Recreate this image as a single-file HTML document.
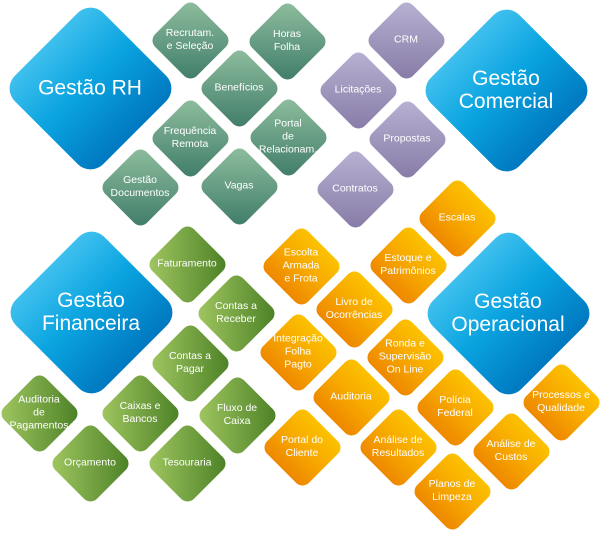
<!DOCTYPE html>
<html><head><meta charset="utf-8">
<style>
html,body{margin:0;padding:0;background:#fff;}
body{width:600px;height:530px;position:relative;overflow:hidden;font-family:"Liberation Sans",sans-serif;}
.n{position:absolute;width:0;height:0;}
.d{position:absolute;left:-29.5px;top:-29.5px;width:59px;height:59px;border-radius:9px;transform:rotate(45deg);}
.t{position:absolute;left:-45px;width:90px;top:0;transform:translateY(-50%);text-align:center;color:#fff;font-size:10.5px;line-height:13px;}
.L .d{left:-62.5px;top:-62.5px;width:125px;height:125px;border-radius:18px;background:linear-gradient(90deg,#3fc0ee,#0aa4e0 45%,#0078c0);}
.L .t{left:-80px;width:160px;font-size:21px;line-height:23px;}
.g .d{background:linear-gradient(135deg,#90bf9f,#3e7b68);}
.p .d{background:linear-gradient(135deg,#bab3d4,#857aa5);}
.f .d{background:linear-gradient(45deg,#a2c862,#4a7f24);}
.o .d{background:linear-gradient(0deg,#ee8800,#f7a800 50%,#fcc200);}
</style></head><body>

<div class="n L" style="left:90px;top:88px"><div class="d"></div><div class="t">Gestão RH</div></div>
<div class="n L" style="left:506px;top:90px"><div class="d"></div><div class="t">Gestão<br>Comercial</div></div>
<div class="n L" style="left:91px;top:312px"><div class="d"></div><div class="t">Gestão<br>Financeira</div></div>
<div class="n L" style="left:508px;top:313px"><div class="d"></div><div class="t">Gestão<br>Operacional</div></div>

<div class="n g" style="left:190px;top:40px"><div class="d"></div><div class="t">Recrutam.<br>e Seleção</div></div>
<div class="n g" style="left:287px;top:41px"><div class="d"></div><div class="t">Horas<br>Folha</div></div>
<div class="n g" style="left:239px;top:88px"><div class="d"></div><div class="t">Benefícios</div></div>
<div class="n g" style="left:190px;top:138px"><div class="d"></div><div class="t">Frequência<br>Remota</div></div>
<div class="n g" style="left:288px;top:137px"><div class="d"></div><div class="t">Portal<br>de<br>Relacionam.</div></div>
<div class="n g" style="left:140px;top:187px"><div class="d"></div><div class="t">Gestão<br>Documentos</div></div>
<div class="n g" style="left:239px;top:186px"><div class="d"></div><div class="t">Vagas</div></div>

<div class="n p" style="left:406px;top:40px"><div class="d"></div><div class="t">CRM</div></div>
<div class="n p" style="left:358px;top:90px"><div class="d"></div><div class="t">Licitações</div></div>
<div class="n p" style="left:407px;top:139px"><div class="d"></div><div class="t">Propostas</div></div>
<div class="n p" style="left:355px;top:189px"><div class="d"></div><div class="t">Contratos</div></div>

<div class="n f" style="left:187px;top:264px"><div class="d"></div><div class="t">Faturamento</div></div>
<div class="n f" style="left:236px;top:313px"><div class="d"></div><div class="t">Contas a<br>Receber</div></div>
<div class="n f" style="left:190px;top:363px"><div class="d"></div><div class="t">Contas a<br>Pagar</div></div>
<div class="n f" style="left:39px;top:413px"><div class="d"></div><div class="t">Auditoria<br>de<br>Pagamentos</div></div>
<div class="n f" style="left:140px;top:413px"><div class="d"></div><div class="t">Caixas e<br>Bancos</div></div>
<div class="n f" style="left:237px;top:415px"><div class="d"></div><div class="t">Fluxo de<br>Caixa</div></div>
<div class="n f" style="left:90px;top:463px"><div class="d"></div><div class="t">Orçamento</div></div>
<div class="n f" style="left:187px;top:463px"><div class="d"></div><div class="t">Tesouraria</div></div>

<div class="n o" style="left:457px;top:218px"><div class="d"></div><div class="t">Escalas</div></div>
<div class="n o" style="left:301px;top:266px"><div class="d"></div><div class="t">Escolta<br>Armada<br>e Frota</div></div>
<div class="n o" style="left:408px;top:265px"><div class="d"></div><div class="t">Estoque e<br>Patrimônios</div></div>
<div class="n o" style="left:354px;top:309px"><div class="d"></div><div class="t">Livro de<br>Ocorrências</div></div>
<div class="n o" style="left:298px;top:352px"><div class="d"></div><div class="t">Integração<br>Folha<br>Pagto</div></div>
<div class="n o" style="left:405px;top:357px"><div class="d"></div><div class="t">Ronda e<br>Supervisão<br>On Line</div></div>
<div class="n o" style="left:351px;top:397px"><div class="d"></div><div class="t">Auditoria</div></div>
<div class="n o" style="left:302px;top:447px"><div class="d"></div><div class="t">Portal do<br>Cliente</div></div>
<div class="n o" style="left:398px;top:447px"><div class="d"></div><div class="t">Análise de<br>Resultados</div></div>
<div class="n o" style="left:455px;top:407px"><div class="d"></div><div class="t">Polícia<br>Federal</div></div>
<div class="n o" style="left:452px;top:491px"><div class="d"></div><div class="t">Planos de<br>Limpeza</div></div>
<div class="n o" style="left:511px;top:451px"><div class="d"></div><div class="t">Análise de<br>Custos</div></div>
<div class="n o" style="left:561px;top:402px"><div class="d"></div><div class="t">Processos e<br>Qualidade</div></div>

</body></html>
